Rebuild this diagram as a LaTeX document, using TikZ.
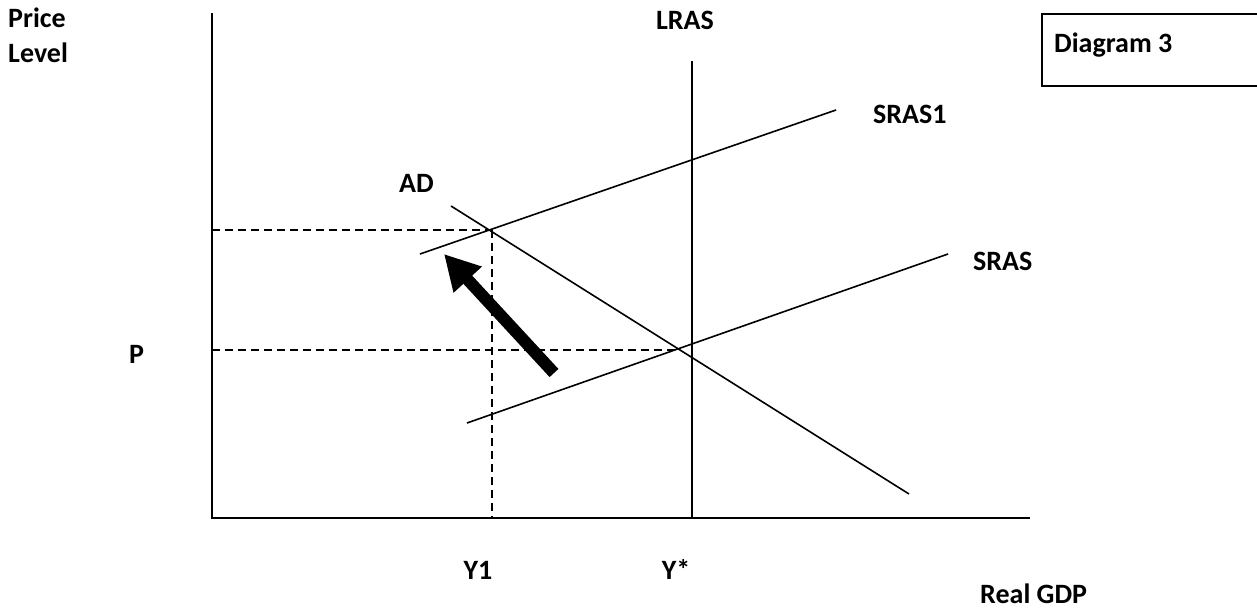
\documentclass[tikz,border=0pt]{standalone}
\usepackage{fontspec}
\setmainfont{Carlito}
\usetikzlibrary{arrows.meta}
\tikzset{
  lbl/.style={inner sep=0pt, font=\fontsize{28}{34}\selectfont\bfseries},
  axis/.style={line width=2.2pt, line cap=rect},
  curve/.style={line width=1.6pt},
  guide/.style={line width=1.6pt, dash pattern=on 8pt off 5pt},
  bigarrow/.style={line width=12pt, -{Triangle[length=35pt,width=36pt]}}
}
\begin{document}
\begin{tikzpicture}[x=1pt,y=-1pt]
\useasboundingbox (0,0) rectangle (1257,609);
% axes
\coordinate (ytop) at (212,14);
\coordinate (origin) at (212,518);
\coordinate (xend) at (1029,518);
\draw[axis] (ytop) -- (origin) -- (xend);
% points
\coordinate (E1) at (679,350);
\coordinate (E2) at (492,230);
\coordinate (pP) at (212,350);
\coordinate (pP1) at (212,230);
\coordinate (y1) at (492,518);
% guides
\draw[guide] (pP) -- (E1);
\draw[guide] (pP1) -- (E2);
\draw[guide] (E2) -- (y1);
% LRAS
\coordinate (lrasTop) at (692,61);
\coordinate (lrasBot) at (692,518);
\draw[curve] (lrasTop) -- (lrasBot);
% SRAS1
\coordinate (s1a) at (420,254);
\coordinate (s1b) at (836,110);
\draw[curve] (s1a) -- (s1b);
% SRAS
\coordinate (sa) at (467,423);
\coordinate (sb) at (948,254);
\draw[curve] (sa) -- (sb);
% AD
\coordinate (ada) at (451,206);
\coordinate (adb) at (909,494);
\draw[curve] (ada) -- (adb);
% arrow
\coordinate (arrTail) at (554,373);
\coordinate (arrTip) at (444,254);
\draw[bigarrow] (arrTail) -- (arrTip);
% box
\coordinate (bx1) at (1260,14);
\coordinate (bx2) at (1042,14);
\coordinate (bx3) at (1042,86);
\coordinate (bx4) at (1260,86);
\draw[curve] (bx1) -- (bx2) -- (bx3) -- (bx4);
% labels
\node[lbl, anchor=base west] (price) at (8,28) {Price};
\node[lbl, anchor=base west] (level) at (8,63) {Level};
\node[lbl, anchor=base] (lras) at (685,30) {LRAS};
\node[lbl, anchor=base west] (diag) at (1054,53) {Diagram 3};
\node[lbl, anchor=base west] (sras1) at (873,124) {SRAS1};
\node[lbl, anchor=base east] (ad) at (434,193) {AD};
\node[lbl, anchor=base west] (sras) at (973,271) {SRAS};
\node[lbl, anchor=base west] (p) at (129,363) {P};
\node[lbl, anchor=base] (y1l) at (478,579) {Y1};
\node[lbl, anchor=base] (ystar) at (676,579) {Y*};
\node[lbl, anchor=base west] (gdp) at (980,603) {Real GDP};
\end{tikzpicture}
\end{document}
